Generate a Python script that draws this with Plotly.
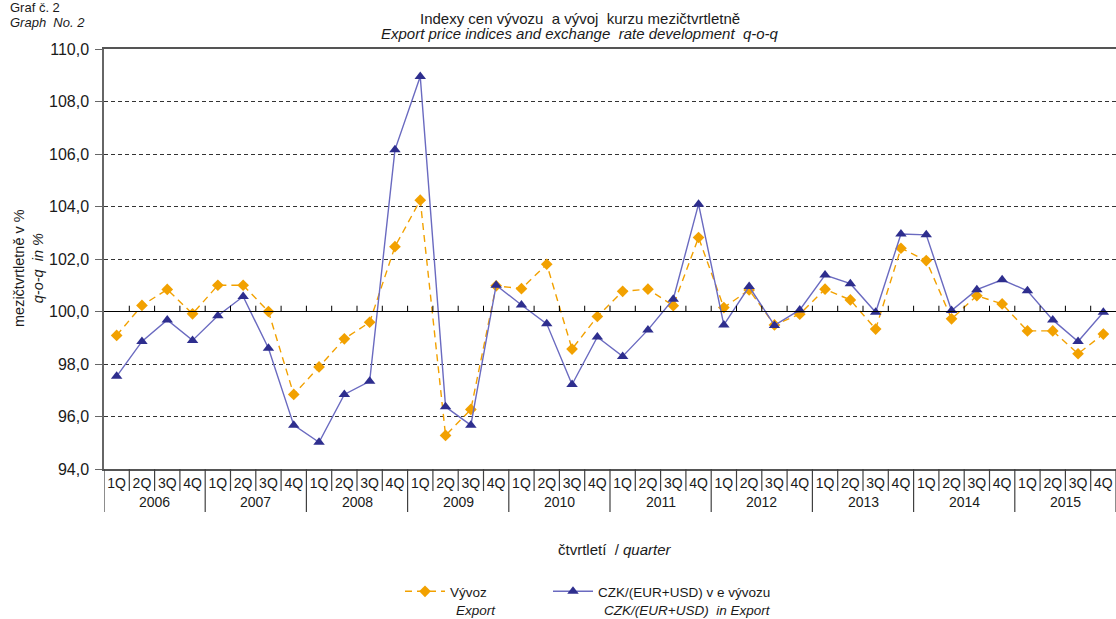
# Export price indices and exchange rate development, q-o-q (Graph No. 2)

import plotly.graph_objects as go

years = ['2006', '2007', '2008', '2009', '2010', '2011', '2012', '2013', '2014', '2015']
quarters = ['1Q', '2Q', '3Q', '4Q']

# Vyvoz / Export, q-o-q index
vyvoz = [99.09, 100.23, 100.84, 99.91, 101.0, 101.0, 100.0, 96.84,
         97.89, 98.96, 99.59, 102.47, 104.24, 95.28, 96.27, 100.98,
         100.87, 101.8, 98.57, 99.81, 100.77, 100.85, 100.22, 102.82,
         100.15, 100.82, 99.49, 99.9, 100.85, 100.44, 99.33, 102.41,
         101.94, 99.72, 100.6, 100.29, 99.26, 99.26, 98.39, 99.14]

# CZK/(EUR+USD) in Export, q-o-q index
kurz = [97.53, 98.86, 99.68, 98.9, 99.84, 100.57, 98.6, 95.67,
        95.02, 96.84, 97.34, 106.16, 108.95, 96.37, 95.67, 101.0,
        100.25, 99.53, 97.22, 99.03, 98.29, 99.3, 100.47, 104.09,
        99.49, 100.95, 99.47, 100.06, 101.39, 101.06, 99.97, 102.95,
        102.92, 100.04, 100.83, 101.21, 100.79, 99.68, 98.86, 99.97]

labels = [q for y in years for q in quarters]
x = list(range(len(labels)))

FONT = 'Arial, Liberation Sans, sans-serif'
ORANGE = '#F2A100'
BLUE_M = '#2E2E8E'
BLUE_L = '#6A6AC0'

fig = go.Figure()
fig.add_trace(go.Scatter(
    x=x, y=vyvoz, mode='lines+markers', name='Vývoz',
    line=dict(color=ORANGE, width=1.4, dash='7px,5px'),
    marker=dict(symbol='diamond', size=9, color=ORANGE), legend='legend'))
fig.add_trace(go.Scatter(
    x=x, y=kurz, mode='lines+markers', name='CZK/(EUR+USD) v e vývozu',
    line=dict(color=BLUE_L, width=1.4),
    marker=dict(symbol='triangle-up', size=10, color=BLUE_M), legend='legend2'))

# separators under the category axis
shapes = []
for i in range(len(labels) + 1):
    low = -0.1024 if i % 4 == 0 else -0.0524
    shapes.append(dict(type='line', xref='x', yref='paper', x0=i - 0.5, x1=i - 0.5,
                       y0=0, y1=low, line=dict(color='#404040', width=1.2)))
# solid 100 line with small ticks
shapes.append(dict(type='line', xref='paper', yref='y', x0=0, x1=1, y0=100, y1=100,
                   line=dict(color='black', width=1.2)))
for i in range(1, len(labels)):
    shapes.append(dict(type='line', xref='x', yref='y', x0=i - 0.5, x1=i - 0.5,
                       y0=100, y1=100.22, line=dict(color='black', width=1)))

annotations = []
for k, yr in enumerate(years):
    annotations.append(dict(x=4 * k + 1.5, y=-0.0786, xref='x', yref='paper', text=yr,
                            yanchor='middle', showarrow=False, font=dict(size=14)))

# positions given in page pixels; plot area spans x 104..1116, y 49..469
def note(text, px, py, anchor='center', size=12, angle=0):
    annotations.append(dict(text=text, x=(px - 104) / 1012, y=(469 - py) / 420,
                            xref='paper', yref='paper', xanchor=anchor, yanchor='middle',
                            showarrow=False, textangle=angle, font=dict(size=size)))

note('Graf č. 2', 8, 8, anchor='left', size=13)
note('<i>Graph  No. 2</i>', 8, 22, anchor='left', size=13)
note('Indexy cen vývozu  a vývoj  kurzu mezičtvrtletně', 580, 18, size=15)
note('<i>Export price indices and exchange  rate development  q-o-q</i>', 580, 34, size=15)
note('mezičtvrtletně v %<br><i>q-o-q  in %</i>', 28, 268, size=14.5, angle=-90)
note('čtvrtletí  / <i>quarter</i>', 615, 549, size=15)
note('<i>Export</i>', 476, 610, size=13.5)
note('<i>CZK/(EUR+USD)  in Export</i>', 602, 610, anchor='left', size=13.5)

leg = dict(orientation='h', xanchor='left', yanchor='top', itemwidth=40,
           font=dict(size=13.5), bgcolor='rgba(0,0,0,0)')
fig.update_layout(
    width=1116, height=619,
    margin=dict(l=104, r=0, t=49, b=150),
    paper_bgcolor='white', plot_bgcolor='white',
    font=dict(family=FONT, size=12, color='#1a1a1a'),
    separators=', ',
    showlegend=True,
    legend=dict(leg, x=(400 - 104) / 1012, y=(469 - 576) / 420),
    legend2=dict(leg, x=(548 - 104) / 1012, y=(469 - 576) / 420),
    shapes=shapes,
    annotations=annotations,
)
fig.update_xaxes(range=[-0.5, len(labels) - 0.5], tickvals=x, ticktext=labels,
                 showgrid=False, showline=True, mirror=True, linecolor='#555555',
                 linewidth=1.5, ticks='', tickfont=dict(size=14), zeroline=False)
fig.update_yaxes(range=[94, 110], tickvals=list(range(94, 111, 2)), tickformat='.1f',
                 showgrid=True, gridcolor='#333333', griddash='4px,3px', gridwidth=1,
                 showline=True, linecolor='#666666', linewidth=1.5,
                 ticks='outside', ticklen=7, tickcolor='#666666', ticklabelstandoff=3,
                 tickfont=dict(size=16), zeroline=False)

# the page body has a default 8px margin; drop it so the figure sits at the corner
fig.write_html('out.html', config={'displayModeBar': False},
               post_script="document.body.style.margin='0px';")
